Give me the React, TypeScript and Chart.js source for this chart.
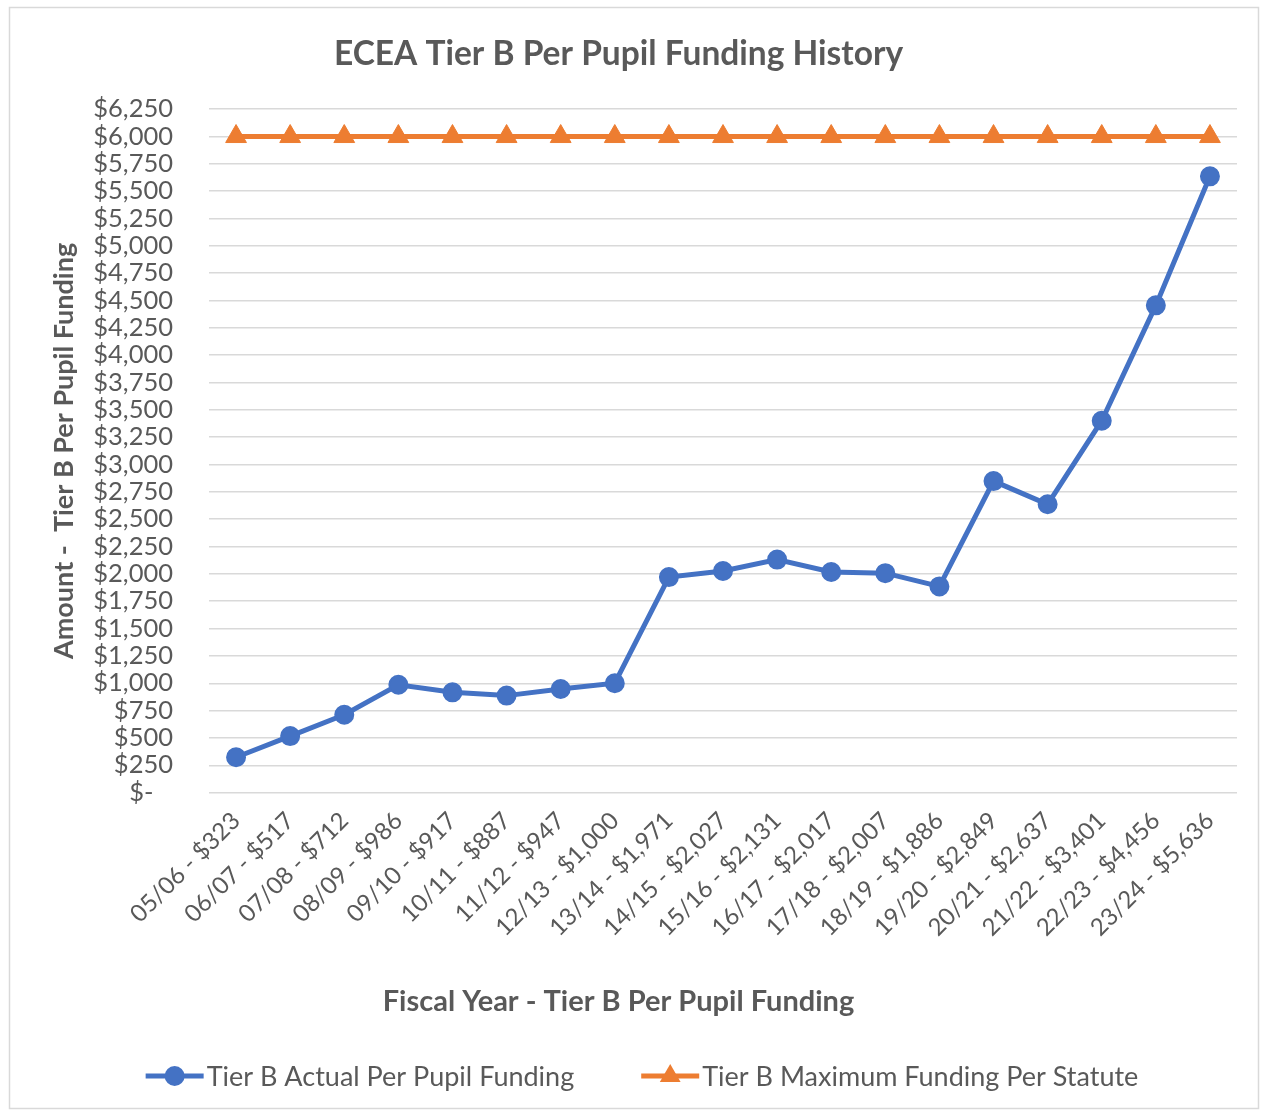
import React, { useEffect, useRef } from "react";
import { Chart, registerables } from "chart.js";

Chart.register(...registerables);

const fiscalYears = [
  "05/06", "06/07", "07/08", "08/09", "09/10", "10/11", "11/12", "12/13", "13/14", "14/15",
  "15/16", "16/17", "17/18", "18/19", "19/20", "20/21", "21/22", "22/23", "23/24",
];
const actualFunding = [
  323, 517, 712, 986, 917, 887, 947, 1000, 1971, 2027,
  2131, 2017, 2007, 1886, 2849, 2637, 3401, 4456, 5636,
];
const maxFunding = [
  6000, 6000, 6000, 6000, 6000, 6000, 6000, 6000, 6000, 6000,
  6000, 6000, 6000, 6000, 6000, 6000, 6000, 6000, 6000,
];
const yMin = 0;
const yMax = 6250;
const yStep = 250;

const seriesNames = ["Tier B Actual Per Pupil Funding", "Tier B Maximum Funding Per Statute"];
const chartTitle = "ECEA Tier B Per Pupil Funding History";
const xTitle = "Fiscal Year - Tier B Per Pupil Funding";
const yTitle = "Amount -  Tier B Per Pupil Funding";

const BLUE = "#4472C4";
const ORANGE = "#ED7D31";
const TEXT = "#595959";
const GRID = "#D9D9D9";
const FONT = "Lato, 'Open Sans', sans-serif";

const money = (v: number) => "$" + v.toLocaleString("en-US");
const categoryLabels = fiscalYears.map((fy, i) => `${fy} - ${money(actualFunding[i])}`);

const framePlugin = {
  id: "frame",
  beforeDraw(chart: any) {
    const { ctx, width, height } = chart;
    ctx.save();
    ctx.fillStyle = "#FFFFFF";
    ctx.fillRect(0, 0, width, height);
    ctx.strokeStyle = GRID;
    ctx.lineWidth = 1.5;
    ctx.strokeRect(9.5, 7.5, width - 13, height - 10);
    ctx.restore();
  },
};

const legendPlugin = {
  id: "excelLegend",
  afterDraw(chart: any) {
    const { ctx, width } = chart;
    const fontSize = 27;
    ctx.save();
    ctx.font = `${fontSize}px ${FONT}`;
    const lineLen = 58;
    const textGap = 3;
    const itemGap = 67;
    const ds = chart.data.datasets;
    const widths = ds.map((d: any) => lineLen + textGap + ctx.measureText(d.label).width);
    const total = widths.reduce((a: number, b: number) => a + b, 0) + itemGap * (ds.length - 1);
    let x = width / 2 + 11 - total / 2;
    const y = 1076;
    ds.forEach((d: any, i: number) => {
      ctx.strokeStyle = d.borderColor;
      ctx.lineWidth = 5;
      ctx.beginPath();
      ctx.moveTo(x, y);
      ctx.lineTo(x + lineLen, y);
      ctx.stroke();
      const cx = x + lineLen / 2;
      ctx.fillStyle = d.pointBackgroundColor;
      ctx.beginPath();
      if (d.pointStyle === "triangle") {
        const r = 12;
        ctx.moveTo(cx, y - r);
        ctx.lineTo(cx + r * 0.866, y + r / 2);
        ctx.lineTo(cx - r * 0.866, y + r / 2);
        ctx.closePath();
      } else {
        ctx.arc(cx, y, 10, 0, Math.PI * 2);
      }
      ctx.fill();
      ctx.fillStyle = TEXT;
      ctx.textBaseline = "middle";
      ctx.textAlign = "left";
      ctx.fillText(d.label, x + lineLen + textGap, y + 1);
      x += widths[i] + itemGap;
    });
    ctx.restore();
  },
};

export default function App() {
  const canvasRef = useRef<HTMLCanvasElement | null>(null);

  useEffect(() => {
    document.body.style.margin = "0";
    const canvas = canvasRef.current;
    if (!canvas) return;
    const chart = new Chart(canvas, {
      type: "line",
      data: {
        labels: categoryLabels,
        datasets: [
          {
            label: seriesNames[0],
            data: actualFunding,
            borderColor: BLUE,
            backgroundColor: BLUE,
            pointBackgroundColor: BLUE,
            pointBorderColor: BLUE,
            borderWidth: 5,
            pointRadius: 9,
            pointBorderWidth: 2,
            pointStyle: "circle",
            tension: 0,
          },
          {
            label: seriesNames[1],
            data: maxFunding,
            borderColor: ORANGE,
            backgroundColor: ORANGE,
            pointBackgroundColor: ORANGE,
            pointBorderColor: ORANGE,
            borderWidth: 5,
            pointRadius: 12,
            pointBorderWidth: 1,
            pointStyle: "triangle",
            tension: 0,
          },
        ],
      },
      options: {
        responsive: true,
        maintainAspectRatio: false,
        animation: false,
        layout: { padding: { left: 0, right: 25, top: 0, bottom: 81.6 } },
        plugins: {
          legend: { display: false },
          tooltip: { enabled: false },
          title: {
            display: true,
            text: chartTitle,
            color: TEXT,
            font: { family: FONT, size: 33.5, weight: "bold" },
            padding: { top: 34, bottom: 35 },
          },
          subtitle: {
            display: true,
            text: xTitle,
            position: "bottom",
            weight: 500,
            color: TEXT,
            font: { family: FONT, size: 29, weight: "bold" },
            padding: { top: 24, bottom: 10 },
          },
        },
        scales: {
          x: {
            offset: true,
            grid: { display: false, drawTicks: false },
            border: { display: false },
            ticks: {
              autoSkip: false,
              minRotation: 45,
              maxRotation: 45,
              color: TEXT,
              padding: 14,
              font: { family: FONT, size: 24 },
            },
            afterFit(scale: any) {
              scale.height = 168;
            },
          },
          y: {
            min: yMin,
            max: yMax,
            grid: { color: GRID, lineWidth: 1.5, drawTicks: false },
            border: { display: false },
            ticks: {
              stepSize: yStep,
              autoSkip: false,
              color: TEXT,
              padding: 36,
              font: { family: FONT, size: 25.5 },
              callback: (v: any) => (Number(v) === 0 ? "$-   " : money(Number(v))),
            },
            title: {
              display: true,
              text: yTitle,
              color: TEXT,
              font: { family: FONT, size: 27, weight: "bold" },
              padding: { top: 48, bottom: 0 },
            },
            afterFit(scale: any) {
              scale.width = 209;
            },
          },
        },
      },
      plugins: [framePlugin, legendPlugin],
    });
    return () => chart.destroy();
  }, []);

  return (
    <div style={{ width: 1262, height: 1111, position: "relative" }}>
      <canvas ref={canvasRef} />
    </div>
  );
}
